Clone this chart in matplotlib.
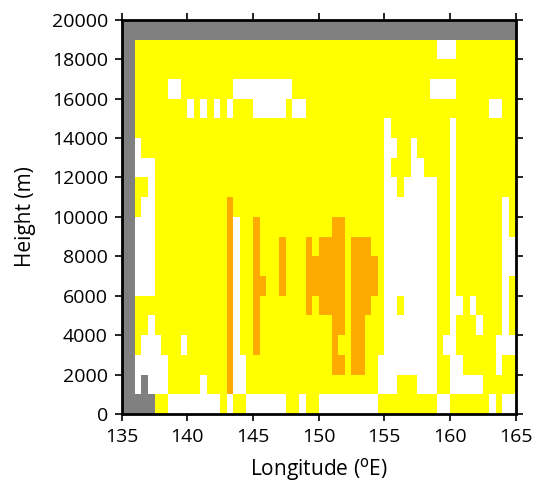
import numpy as np
import matplotlib
matplotlib.use('Agg')
import matplotlib.pyplot as plt
from matplotlib.colors import ListedColormap, BoundaryNorm

plt.rcParams['font.family'] = ['Open Sans', 'DejaVu Sans']

# grid cells: 0.5 deg x 1000 m
# each row is run-length coded from 135E eastwards: g=gray, y=yellow, w=white, o=orange
# listed from the top row (19000-20000 m) down to 0-1000 m
lon_edges = np.arange(135, 165.01, 0.5)
hgt_edges = np.arange(0, 20001, 1000)

rows_top_down = [
    'g60',
    'g2 y46 w3 y9',
    'g2 y58',
    'g2 y5 w2 y8 w9 y21 w4 y9',
    'g2 y8 w1 y1 w1 y1 w1 y1 w1 y3 w5 y1 w2 y28 w2 y2',
    'g2 y38 w1 y9 w1 y9',
    'g2 w1 y37 w2 y2 w1 y5 w1 y9',
    'g2 w3 y35 w1 y3 w2 y4 w1 y9',
    'g2 y2 w1 y35 w2 y1 w5 y2 w1 y9',
    'g2 y1 w2 y11 o1 y23 w8 y2 w1 y7 w1 y1',
    'g2 w3 y11 o1 w1 y2 o1 y11 o2 y6 w8 y2 w1 y7 w1 y1',
    'g2 w3 y11 o1 w1 y2 o1 y3 o1 y3 o1 y1 o4 y1 o3 y2 w8 y2 w1 y7 w2',
    'g2 w3 y11 o1 w1 y2 o1 y3 o1 y3 o6 y1 o4 y1 w8 y2 w1 y7 w2',
    'g2 w3 y11 o1 w1 y2 o2 y2 o1 y3 o6 y1 o4 y1 w8 y2 w1 y7 w1 y1',
    'g2 y14 o1 w1 y2 o1 y7 o1 y1 o4 y1 o3 y2 w2 y1 w5 y2 w2 y1 w1 y4 w1 y1',
    'g2 y2 w1 y11 o1 w1 y2 o1 y11 o2 y1 o2 y3 w8 y2 w1 y3 w1 y3 w1 y1',
    'g2 y1 w3 y3 w1 y6 o1 w1 y2 o1 y11 o1 y2 o2 y3 w8 y1 w2 y6 w3',
    'g2 w5 y9 o1 w2 y13 o2 y1 o2 y2 w9 y2 w2 y5 w1 y2',
    'g2 w1 g1 w3 y5 w1 y3 o1 w2 y20 w3 y3 w3 y2 w5 y5',
    'g5 y2 w8 y1 w1 y2 w6 y2 w1 y2 w9 y9 w2 y6 w1 y1 w2',
]

codes = {'w': 0, 'y': 1, 'o': 2, 'g': 3}


def decode(row):
    out = []
    for run in row.split():
        out += [codes[run[0]]] * int(run[1:])
    return out


grid = np.array([decode(r) for r in rows_top_down[::-1]])

cmap = ListedColormap(['#ffffff', '#ffff00', '#ffaa00', '#808080'])
norm = BoundaryNorm([-0.5, 0.5, 1.5, 2.5, 3.5], cmap.N)

fig = plt.figure(figsize=(5.41, 4.83), dpi=100)
ax = fig.add_axes([0.225, 0.143, 0.728, 0.816])
ax.pcolormesh(lon_edges, hgt_edges, grid, cmap=cmap, norm=norm)

ax.set_xlim(135, 165)
ax.set_ylim(0, 20000)
ax.set_xticks(np.arange(135, 166, 5))
ax.set_yticks(np.arange(0, 20001, 2000))
ax.tick_params(direction='out', length=5, width=1.2, labelsize=14, pad=5,
               top=True, right=True, labeltop=False, labelright=False)
for sp in ax.spines.values():
    sp.set_linewidth(2)

ax.set_xlabel('Longitude ($^{\\mathrm{o}}$E)', fontsize=15, labelpad=7)
ax.set_ylabel('Height (m)', fontsize=15, labelpad=11)

plt.savefig('out.png', dpi=100)
